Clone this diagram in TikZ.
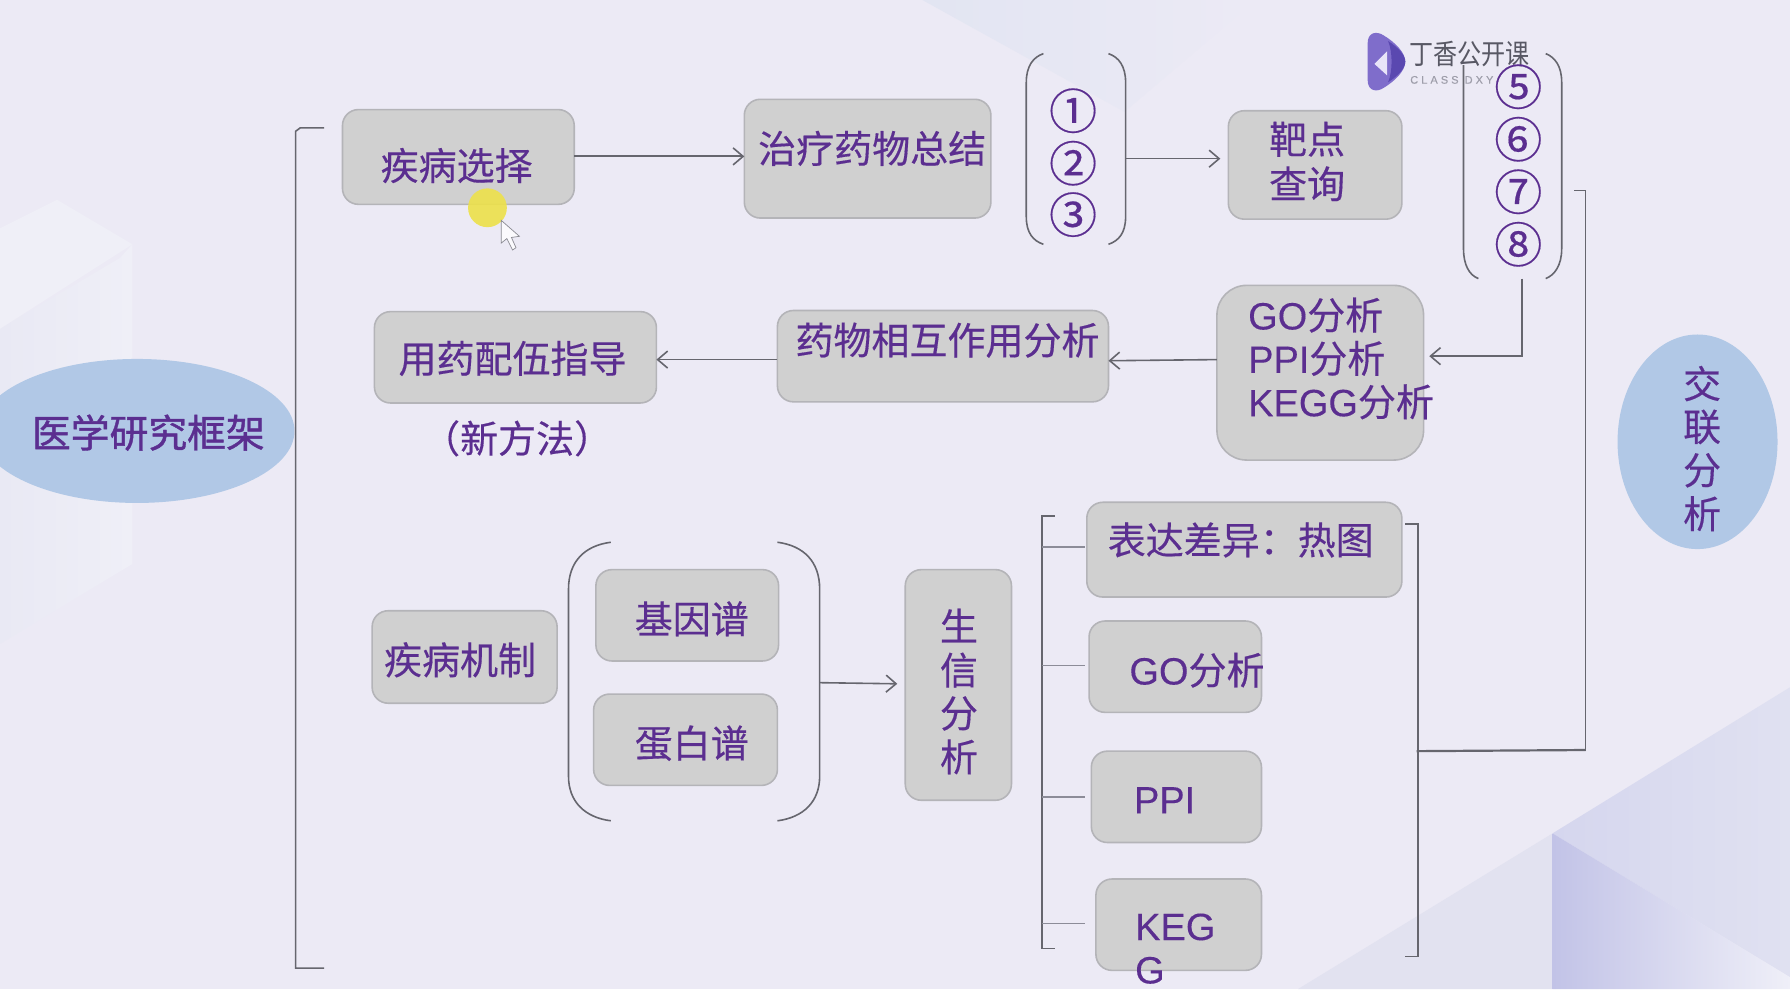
\documentclass[tikz,border=0pt]{standalone}
\usepackage{fontspec}
\setmainfont{Noto Sans CJK SC}[FakeBold=0.35]
\newfontfamily\rootf{Noto Sans CJK SC}[FakeBold=1.1]
\newfontfamily\plainf{Noto Sans CJK SC}
\newfontfamily\lat{Liberation Sans}[FakeBold=0.2]
\usetikzlibrary{arrows.meta,calc,shapes.geometric}
\definecolor{bgc}{HTML}{ECEAF5}
\definecolor{boxc}{HTML}{D0D0D0}
\definecolor{boxe}{HTML}{B4B4B8}
\definecolor{ell}{HTML}{B1C8E6}
\definecolor{ink}{HTML}{5B2E90}
\definecolor{wire}{HTML}{66666E}
\definecolor{branch}{HTML}{8C8C98}
\definecolor{logoc}{HTML}{7F6DCB}
\definecolor{logod}{HTML}{5A48B0}
\definecolor{logoin}{HTML}{E8E4F8}
\definecolor{logot}{HTML}{585864}
\definecolor{logos}{HTML}{9E9EAA}
\definecolor{facetA}{HTML}{E2E5F2}
\definecolor{facetB}{HTML}{E2E2F0}
\definecolor{facetC}{HTML}{D5D6EE}
\definecolor{facetC2}{HTML}{E0E1F1}
\definecolor{facetD}{HTML}{C2C3E7}
\definecolor{facetE}{HTML}{EFEFF8}
\definecolor{facetF}{HTML}{E9E9F4}
\definecolor{facetG}{HTML}{EFEFF7}
\definecolor{hilite}{HTML}{EDE14A}
\definecolor{curs}{HTML}{8A8A92}
\newcommand{\gbox}[6][14]{%
  \pgfmathsetmacro{\bw}{(#4-#2)*0.5708}%
  \pgfmathsetmacro{\bh}{(#5-#3)*0.5708}%
  \node[boxst,rounded corners=#1*0.5708pt,minimum width=\bw pt,minimum height=\bh pt] (#6) at ({(#2+#4)/2},{(#3+#5)/2}) {};%
}
\tikzset{
  boxst/.style={draw=boxe,line width=0.8pt,fill=boxc,inner sep=0pt,outer sep=0pt},
  ellst/.style={ellipse,fill=ell,inner sep=0pt,outer sep=0pt},
  txt/.style={text=ink,font=\fontsize{19}{22}\selectfont,inner sep=0pt},
  txtl/.style={txt,anchor=west},
  num/.style={text=ink,font=\fontsize{24}{26}\selectfont,inner sep=0pt},
  wirest/.style={draw=wire,line width=0.8pt},
  branchst/.style={draw=branch,line width=0.9pt},
  arr/.style={wirest,-{Straight Barb[length=5pt,width=8.5pt,line width=0.8pt]}},
}
\begin{document}
\begin{tikzpicture}[x=0.5708pt,y=-0.5708pt]
\useasboundingbox (0,0) rectangle (1568,866.4);
\fill[bgc] (0,0) rectangle (1568,866.4);
% background facets
\shade[left color=facetF,right color=facetG] (0,288) -- (105,226) -- (116,214) -- (116,494) -- (0,564) -- cycle;
\fill[facetG] (0,288) -- (116,214) -- (50,175) -- (0,200) -- cycle;
\shade[left color=facetA,right color=bgc] (808,0) -- (985,98) -- (1100,0) -- cycle;
\fill[facetB] (1360,730) -- (1360,866.4) -- (1137,866.4) -- cycle;
\shade[left color=facetC,right color=facetC2] (1360,730) -- (1568,602) -- (1568,856) -- cycle;
\shade[left color=facetD,right color=facetE] (1360,730) -- (1568,856) -- (1568,866.4) -- (1360,866.4) -- cycle;
% logo
\fill[logoc] (1198,38) .. controls (1198,28) and (1206,27) .. (1212,31) .. controls (1222,37) and (1231,46) .. (1231,54) .. controls (1231,62) and (1222,71) .. (1212,77) .. controls (1206,81) and (1198,80) .. (1198,70) -- cycle;
\fill[logod] (1216,36) .. controls (1224,41) and (1231,48) .. (1231,54) .. controls (1231,60) and (1224,67) .. (1216,72) .. controls (1220,62) and (1220,46) .. (1216,36) -- cycle;
\fill[logoin] (1215,45) -- (1215,66) -- (1204,56) -- cycle;
\node[inner sep=0pt,text=logot,font=\plainf\fontsize{14}{16}\selectfont,xscale=.86,anchor=west] (logotext) at (1234,47) {丁香公开课};
\node[inner sep=0pt,text=logos,font=\lat\fontsize{5.5}{6}\selectfont,anchor=west] (logosub) at (1235,70) {C L A S S \ D X Y};
% left ellipse and right ellipse
\node[ellst,minimum width=157.5pt,minimum height=72pt] (root) at (120,377.5) {};
\node[txt,font=\rootf\fontsize{19.4}{22}\selectfont] (rootl) at (130,379) {医学研究框架};
\node[ellst,minimum width=80pt,minimum height=107.3pt] (cross) at (1487,387) {};
\node[txt] (cross1) at (1491,336) {交};
\node[txt] (cross2) at (1491,374) {联};
\node[txt] (cross3) at (1491,412) {分};
\node[txt] (cross4) at (1491,450) {析};
% boxes
\gbox{300}{96}{503}{179}{sel}
\node[txt] (sell) at (400,145) {疾病选择};
\gbox{652}{87}{868}{191}{drug}
\node[txt] (drugl) at (764,130) {治疗药物总结};
\gbox{1076}{97}{1228}{192}{target}
\node[txt] (t1) at (1145,122) {靶点};
\node[txt] (t2) at (1145,161) {查询};
\gbox[26]{1066}{250}{1247}{403}{enrich}
\node[txtl] (e1) at (1093,276) {{\lat GO}分析};
\node[txtl] (e2) at (1093,314) {{\lat PPI}分析};
\node[txtl] (e3) at (1093,352) {{\lat KEGG}分析};
\gbox{681}{272}{971}{352}{inter}
\node[txt] (interl) at (830,298) {药物相互作用分析};
\gbox{328}{273}{575}{353}{guide}
\node[txt] (guidel) at (449,314) {用药配伍指导};
\node[txt] (newm) at (453,384) {（新方法）};
\gbox{326}{535}{488}{616}{mech}
\node[txt] (mechl) at (403,578) {疾病机制};
\gbox{522}{499}{682}{579}{gene}
\node[txt] (genel) at (606,542) {基因谱};
\gbox{520}{608}{681}{688}{prot}
\node[txt] (protl) at (606,651) {蛋白谱};
\gbox{793}{499}{886}{701}{bio}
\node[txt] (b1) at (840,548) {生};
\node[txt] (b2) at (840,587) {信};
\node[txt] (b3) at (840,625) {分};
\node[txt] (b4) at (840,663) {析};
\gbox{952}{440}{1228}{523}{heat}
\node[txtl] (heatl) at (970,473) {表达差异：热图};
\gbox{954}{544}{1105}{624}{gobox}
\node[txtl] (gol) at (989,587) {{\lat GO}分析};
\gbox{956}{658}{1105}{738}{ppibox}
\node[txtl] (ppil) at (993,701) {\lat PPI};
\gbox{960}{770}{1105}{850}{keggbox}
\node[txtl] (kl1) at (994,812) {\lat KEG};
\node[txtl] (kl2) at (994,850) {\lat G};
% circled numbers
\node[num] (n1) at (940,97) {①};
\node[num] (n2) at (940,143) {②};
\node[num] (n3) at (940,188) {③};
\node[num] (n5) at (1330,76) {⑤};
\node[num] (n6) at (1330,122) {⑥};
\node[num] (n7) at (1330,168) {⑦};
\node[num] (n8) at (1330,214) {⑧};
% coordinates for bracket ends
\coordinate (pa) at (986,139);
\coordinate (pb) at (1333,244);
\coordinate (pc) at (718,598);
\coordinate (bl) at (913,479);
\coordinate (b2l) at (913,583);
\coordinate (b3l) at (913,698);
\coordinate (b4l) at (913,809);
\coordinate (brm) at (1241,658);
\coordinate (bigm) at (1389,657);
\coordinate (corner) at (1333,312);
% brackets
\draw[wirest] (284,112) -- (263,112) -- (259,115) -- (259,848) -- (284,848);
\draw[wirest] (914,47) .. controls (905,50) and (899,58) .. (899,72) -- (899,190) .. controls (899,204) and (905,211) .. (914,214);
\draw[wirest] (971,47) .. controls (980,50) and (986,58) .. (986,72) -- (986,190) .. controls (986,204) and (980,211) .. (971,214);
\draw[wirest] (1282,57) -- (1282,218) .. controls (1282,232) and (1287,241) .. (1295,244);
\draw[wirest] (1354,47) .. controls (1362,50) and (1368,58) .. (1368,72) -- (1368,218) .. controls (1368,232) and (1362,241) .. (1354,244);
\draw[wirest] (535,475) .. controls (512,478) and (498,492) .. (498,516) -- (498,680) .. controls (498,702) and (512,716) .. (535,719);
\draw[wirest] (681,475) .. controls (704,478) and (718,492) .. (718,516) -- (718,680) .. controls (718,702) and (704,716) .. (681,719);
\draw[wirest] (924,452) -- (913,452) -- (913,831) -- (924,831);
\draw[wirest] (1231,459) -- (1242,459) -- (1242,838) -- (1231,838);
\draw[wirest] (1379,167) -- (1389,167) -- (1389,657) -- (1379,657);
% connectors
\draw[arr,line width=1.1pt] (sel.east |- 0,137) -- (drug.west |- 0,137);
\draw[arr] (pa) -- ($(target.west |- pa)+(-7,0)$);
\draw[arr,line width=1pt] (pb) -- (corner) -- ($(enrich.east |- corner)+(5,0)$);
\draw[arr] (enrich.west |- 0,315) -- (inter.east |- 0,316);
\draw[arr] (inter.west |- 0,315) -- (guide.east |- 0,315);
\draw[arr] (pc) -- ($(bio.west |- 0,599)+(-7,0)$);
\draw[branchst] (bl) -- ($(bl)+(37,0)$);
\draw[branchst] (b2l) -- ($(b2l)+(37,0)$);
\draw[branchst] (b3l) -- ($(b3l)+(37,0)$);
\draw[branchst] (b4l) -- ($(b4l)+(37,0)$);
\draw[wirest,line width=1.1pt] (brm) -- (bigm);
% pointer highlight
\fill[hilite,opacity=.9] (427,182) circle [radius=17*0.5708pt];
\draw[curs,fill=white,fill opacity=.8,line width=.35pt] (439,193) -- (439,213) -- (444,209) -- (449,219) -- (452,217) -- (448,208) -- (455,207) -- cycle;
\end{tikzpicture}
\end{document}
